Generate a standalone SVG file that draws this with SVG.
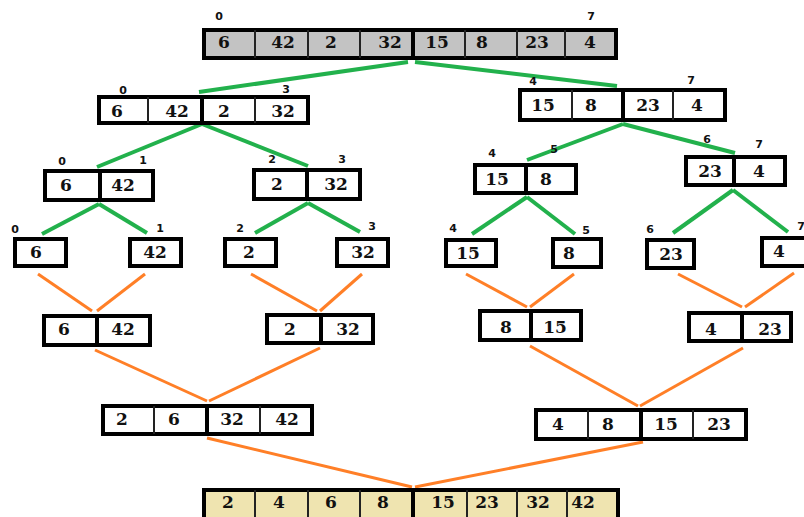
<svg xmlns="http://www.w3.org/2000/svg" width="804" height="517" viewBox="0 0 804 517">
<style>
.b{stroke:#000;stroke-width:4}
.w{fill:#fff}.g{fill:#c3c3c3}.t{fill:#efe4b0}
.d{stroke:#222;stroke-width:2}
.D{stroke:#000;stroke-width:4}
.v{font-family:"DejaVu Serif",serif;font-weight:bold;font-size:17px;text-anchor:middle;fill:#111}
.i{font-family:"DejaVu Sans",sans-serif;font-weight:bold;font-size:11px;text-anchor:middle;fill:#111}
.gr{stroke:#22b14c;stroke-width:4;fill:none}
.or{stroke:#ff7f27;stroke-width:3;fill:none}
</style>
<rect width="804" height="517" fill="#fff"/>
<g id="connectors">
<line class="gr" x1="408" y1="62" x2="199" y2="92"/>
<line class="gr" x1="415" y1="62" x2="617" y2="86"/>
<line class="gr" x1="202" y1="124" x2="97" y2="167"/>
<line class="gr" x1="202" y1="124" x2="308" y2="166"/>
<line class="gr" x1="623" y1="124" x2="527" y2="160"/>
<line class="gr" x1="623" y1="124" x2="735" y2="153"/>
<line class="gr" x1="99" y1="204" x2="42" y2="234"/>
<line class="gr" x1="99" y1="204" x2="147" y2="233"/>
<line class="gr" x1="308" y1="203" x2="255" y2="233"/>
<line class="gr" x1="308" y1="203" x2="360" y2="232"/>
<line class="gr" x1="527" y1="197" x2="472" y2="234"/>
<line class="gr" x1="527" y1="197" x2="575" y2="234"/>
<line class="gr" x1="733" y1="190" x2="673" y2="233"/>
<line class="gr" x1="733" y1="190" x2="788" y2="232"/>
<line class="or" x1="38" y1="274" x2="92" y2="311"/>
<line class="or" x1="145" y1="274" x2="97" y2="311"/>
<line class="or" x1="251" y1="274" x2="317" y2="311"/>
<line class="or" x1="362" y1="274" x2="320" y2="311"/>
<line class="or" x1="466" y1="274" x2="527" y2="307"/>
<line class="or" x1="574" y1="274" x2="530" y2="307"/>
<line class="or" x1="678" y1="274" x2="742" y2="307"/>
<line class="or" x1="794" y1="273" x2="745" y2="307"/>
<line class="or" x1="95" y1="350" x2="207" y2="401"/>
<line class="or" x1="320" y1="348" x2="209" y2="401"/>
<line class="or" x1="530" y1="346" x2="638" y2="406"/>
<line class="or" x1="743" y1="348" x2="640" y2="406"/>
<line class="or" x1="207" y1="438" x2="412" y2="487"/>
<line class="or" x1="643" y1="442" x2="415" y2="487"/>
</g>
<g id="n-top">
<rect class="b g" x="204" y="30" width="412" height="28"/>
<line class="d" x1="255" y1="30" x2="255" y2="58"/><line class="d" x1="308" y1="30" x2="308" y2="58"/><line class="d" x1="360" y1="30" x2="360" y2="58"/><line class="D" x1="413" y1="30" x2="413" y2="58"/><line class="d" x1="465" y1="30" x2="465" y2="58"/><line class="d" x1="517" y1="30" x2="517" y2="58"/><line class="d" x1="565" y1="30" x2="565" y2="58"/>
<text class="v" x="224" y="48">6</text><text class="v" x="283" y="48">42</text><text class="v" x="331" y="48">2</text><text class="v" x="390" y="48">32</text><text class="v" x="437" y="48">15</text><text class="v" x="482" y="48">8</text><text class="v" x="537" y="48">23</text><text class="v" x="590" y="48">4</text>
<text class="i" x="219" y="20">0</text><text class="i" x="591" y="20">7</text>
</g>
<g id="n-l2a">
<rect class="b w" x="99" y="97" width="209" height="26"/>
<line class="d" x1="148" y1="97" x2="148" y2="123"/><line class="D" x1="202" y1="97" x2="202" y2="123"/><line class="d" x1="255" y1="97" x2="255" y2="123"/>
<text class="v" x="117" y="117">6</text><text class="v" x="177" y="117">42</text><text class="v" x="224" y="117">2</text><text class="v" x="283" y="117">32</text>
<text class="i" x="123" y="94">0</text><text class="i" x="286" y="93">3</text>
</g>
<g id="n-l2b">
<rect class="b w" x="520" y="90" width="205" height="30"/>
<line class="d" x1="572" y1="90" x2="572" y2="120"/><line class="D" x1="623" y1="90" x2="623" y2="120"/><line class="d" x1="673" y1="90" x2="673" y2="120"/>
<text class="v" x="543" y="111">15</text><text class="v" x="591" y="111">8</text><text class="v" x="648" y="111">23</text><text class="v" x="697" y="111">4</text>
<text class="i" x="533" y="85">4</text><text class="i" x="691" y="84">7</text>
</g>
<g id="n-l3a">
<rect class="b w" x="45" y="171" width="108" height="29"/>
<line class="D" x1="100" y1="171" x2="100" y2="200"/>
<text class="v" x="66" y="191">6</text><text class="v" x="123" y="191">42</text>
<text class="i" x="62" y="165">0</text><text class="i" x="143" y="164">1</text>
</g>
<g id="n-l3b">
<rect class="b w" x="254" y="170" width="106" height="29"/>
<line class="D" x1="307" y1="170" x2="307" y2="199"/>
<text class="v" x="277" y="190">2</text><text class="v" x="336" y="190">32</text>
<text class="i" x="272" y="163">2</text><text class="i" x="342" y="163">3</text>
</g>
<g id="n-l3c">
<rect class="b w" x="475" y="165" width="101" height="28"/>
<line class="D" x1="526" y1="165" x2="526" y2="193"/>
<text class="v" x="497" y="185">15</text><text class="v" x="546" y="185">8</text>
<text class="i" x="492" y="157">4</text><text class="i" x="554" y="153">5</text>
</g>
<g id="n-l3d">
<rect class="b w" x="686" y="157" width="99" height="28"/>
<line class="D" x1="734" y1="157" x2="734" y2="185"/>
<text class="v" x="710" y="177">23</text><text class="v" x="759" y="177">4</text>
<text class="i" x="707" y="143">6</text><text class="i" x="759" y="148">7</text>
</g>
<g id="n-l4a">
<rect class="b w" x="15" y="239" width="51" height="27"/>
<text class="v" x="36" y="258">6</text><text class="i" x="15" y="233">0</text>
</g>
<g id="n-l4b">
<rect class="b w" x="130" y="239" width="51" height="27"/>
<text class="v" x="155" y="258">42</text><text class="i" x="160" y="232">1</text>
</g>
<g id="n-l4c">
<rect class="b w" x="225" y="239" width="51" height="27"/>
<text class="v" x="249" y="258">2</text><text class="i" x="240" y="232">2</text>
</g>
<g id="n-l4d">
<rect class="b w" x="337" y="239" width="51" height="27"/>
<text class="v" x="363" y="258">32</text><text class="i" x="372" y="230">3</text>
</g>
<g id="n-l4e">
<rect class="b w" x="446" y="240" width="50" height="26"/>
<text class="v" x="468" y="259">15</text><text class="i" x="453" y="232">4</text>
</g>
<g id="n-l4f">
<rect class="b w" x="553" y="239" width="48" height="28"/>
<text class="v" x="569" y="259">8</text><text class="i" x="586" y="234">5</text>
</g>
<g id="n-l4g">
<rect class="b w" x="647" y="240" width="47" height="28"/>
<text class="v" x="671" y="260">23</text><text class="i" x="650" y="233">6</text>
</g>
<g id="n-l4h">
<rect class="b w" x="762" y="238" width="50" height="28"/>
<text class="v" x="779" y="257">4</text><text class="i" x="801" y="230">7</text>
</g>
<g id="n-m1a">
<rect class="b w" x="44" y="316" width="106" height="29"/>
<line class="D" x1="97" y1="316" x2="97" y2="345"/>
<text class="v" x="64" y="335">6</text><text class="v" x="123" y="335">42</text>
</g>
<g id="n-m1b">
<rect class="b w" x="267" y="315" width="106" height="28"/>
<line class="D" x1="321" y1="315" x2="321" y2="343"/>
<text class="v" x="290" y="335">2</text><text class="v" x="348" y="335">32</text>
</g>
<g id="n-m1c">
<rect class="b w" x="480" y="311" width="101" height="29"/>
<line class="D" x1="531" y1="311" x2="531" y2="340"/>
<text class="v" x="506" y="333">8</text><text class="v" x="555" y="333">15</text>
</g>
<g id="n-m1d">
<rect class="b w" x="689" y="313" width="102" height="28"/>
<line class="D" x1="742" y1="313" x2="742" y2="341"/>
<text class="v" x="711" y="335">4</text><text class="v" x="770" y="335">23</text>
</g>
<g id="n-m2a">
<rect class="b w" x="103" y="406" width="209" height="28"/>
<line class="d" x1="154" y1="406" x2="154" y2="434"/><line class="D" x1="207" y1="406" x2="207" y2="434"/><line class="d" x1="260" y1="406" x2="260" y2="434"/>
<text class="v" x="122" y="425">2</text><text class="v" x="174" y="425">6</text><text class="v" x="232" y="425">32</text><text class="v" x="287" y="425">42</text>
</g>
<g id="n-m2b">
<rect class="b w" x="536" y="410" width="210" height="29"/>
<line class="d" x1="588" y1="410" x2="588" y2="439"/><line class="D" x1="641" y1="410" x2="641" y2="439"/><line class="d" x1="693" y1="410" x2="693" y2="439"/>
<text class="v" x="558" y="430">4</text><text class="v" x="608" y="430">8</text><text class="v" x="666" y="430">15</text><text class="v" x="719" y="430">23</text>
</g>
<g id="n-final">
<rect class="b t" x="204" y="490" width="414" height="32"/>
<line class="d" x1="255" y1="490" x2="255" y2="522"/><line class="d" x1="308" y1="490" x2="308" y2="522"/><line class="d" x1="360" y1="490" x2="360" y2="522"/><line class="D" x1="413" y1="490" x2="413" y2="522"/><line class="d" x1="467" y1="490" x2="467" y2="522"/><line class="d" x1="517" y1="490" x2="517" y2="522"/><line class="d" x1="567" y1="490" x2="567" y2="522"/>
<text class="v" x="228" y="508">2</text><text class="v" x="279" y="508">4</text><text class="v" x="331" y="508">6</text><text class="v" x="383" y="508">8</text><text class="v" x="443" y="508">15</text><text class="v" x="487" y="508">23</text><text class="v" x="538" y="508">32</text><text class="v" x="583" y="508">42</text>
</g>
</svg>
